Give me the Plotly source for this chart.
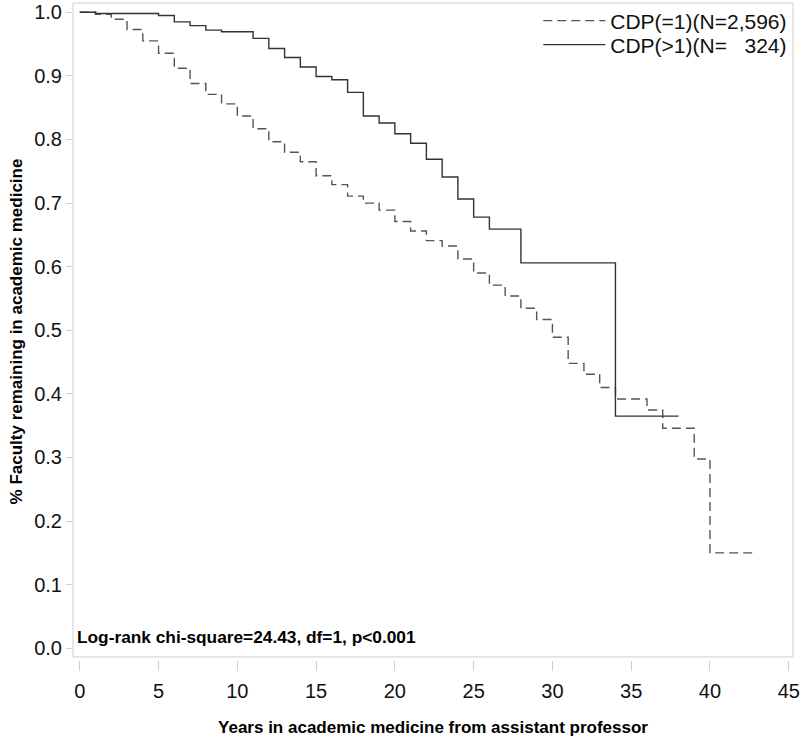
import plotly.graph_objects as go

# Kaplan-Meier step data (years, survival proportion)
t_eq1 = [0, 1, 2, 3, 4, 5, 6, 7, 8, 9, 10, 11, 12, 13, 14, 15, 16, 17, 18, 19, 20,
         21, 22, 23, 24, 25, 26, 27, 28, 29, 30, 31, 32, 33, 34, 36, 37, 39, 40, 42.7]
s_eq1 = [1.0, 0.997, 0.989, 0.973, 0.955, 0.9355, 0.912, 0.888, 0.871, 0.856, 0.837,
         0.817, 0.7965, 0.780, 0.765, 0.743, 0.729, 0.711, 0.700, 0.689, 0.671,
         0.656, 0.641, 0.6325, 0.612, 0.590, 0.571, 0.554, 0.5346, 0.517, 0.489,
         0.448, 0.431, 0.410, 0.392, 0.3747, 0.346, 0.2976, 0.150, 0.150]

t_gt1 = [0, 1, 5, 6, 7, 8, 9, 11, 12, 13, 14, 15, 16, 17, 18, 19, 20, 21, 22, 23,
         24, 25, 26, 28, 34, 38]
s_gt1 = [1.0, 0.998, 0.995, 0.985, 0.979, 0.972, 0.9695, 0.959, 0.943, 0.929, 0.914,
         0.899, 0.894, 0.874, 0.837, 0.826, 0.809, 0.794, 0.769, 0.741, 0.7065,
         0.678, 0.659, 0.606, 0.365, 0.365]

name_eq1 = "CDP(=1)(N=2,596)"
name_gt1 = "CDP(>1)(N=\u00a0\u00a0\u00a0324)"
x_ticks = [0, 5, 10, 15, 20, 25, 30, 35, 40, 45]
y_ticks = [0.0, 0.1, 0.2, 0.3, 0.4, 0.5, 0.6, 0.7, 0.8, 0.9, 1.0]
stat_text = "Log-rank chi-square=24.43, df=1, p<0.001"

FONT = "Liberation Sans, Arial, sans-serif"
x_range = [-0.43, 45.27]
y_range = [-0.0184, 1.0146]

fig = go.Figure()
fig.add_trace(go.Scatter(x=t_eq1, y=s_eq1, mode="lines", name=name_eq1, legend="legend",
                         line=dict(shape="hv", color="#555555", width=1.4, dash="9px,5px")))
fig.add_trace(go.Scatter(x=t_gt1, y=s_gt1, mode="lines", name=name_gt1, legend="legend2",
                         line=dict(shape="hv", color="#333333", width=1.4)))

# plot frame (sits slightly above the x tick marks, as in the original)
fig.add_shape(type="rect", xref="paper", yref="paper", x0=0, x1=1,
              y0=0.0046, y1=1, line=dict(color="#cfcfcf", width=1),
              layer="below")

fig.add_annotation(text=stat_text, xref="paper", yref="y", x=0.003, y=0.018,
                   xanchor="left", yanchor="middle", showarrow=False,
                   font=dict(family=FONT, size=17.3, color="#000000", weight="bold"))

leg_common = dict(xanchor="right", yanchor="middle",
                  font=dict(family=FONT, size=21, color="#111111"),
                  bgcolor="rgba(0,0,0,0)", itemwidth=62)

fig.update_layout(
    template="none",
    width=800, height=745,
    margin=dict(l=73, r=7, t=3, b=85, autoexpand=False),
    plot_bgcolor="white", paper_bgcolor="white",
    font=dict(family=FONT, color="#222222"),
    showlegend=True,
    legend=dict(x=0.999, y=0.9726, **leg_common),
    legend2=dict(x=0.999, y=0.9361, **leg_common),
    xaxis=dict(range=x_range, tickvals=x_ticks, showgrid=False, zeroline=False,
               showline=False, ticks="outside", ticklen=10, tickcolor="#cfcfcf",
               automargin=False,
               tickfont=dict(family=FONT, size=20, color="#111111"),
               ticklabelstandoff=3,
               title=dict(text="Years in academic medicine from assistant professor",
                          font=dict(family=FONT, size=17, color="#000000", weight="bold"),
                          standoff=20)),
    yaxis=dict(range=y_range, tickvals=y_ticks, tickformat=".1f", showgrid=False,
               zeroline=False, showline=False, ticks="outside", ticklen=6,
               tickcolor="#cfcfcf", automargin=False,
               tickfont=dict(family=FONT, size=20, color="#111111"),
               title=dict(text="% Faculty remaining in academic medicine",
                          font=dict(family=FONT, size=17, color="#000000", weight="bold"),
                          standoff=7)),
)

fig.write_html("out.html", config={"displayModeBar": False},
               post_script="document.body.style.margin='0';document.body.style.padding='0';")
